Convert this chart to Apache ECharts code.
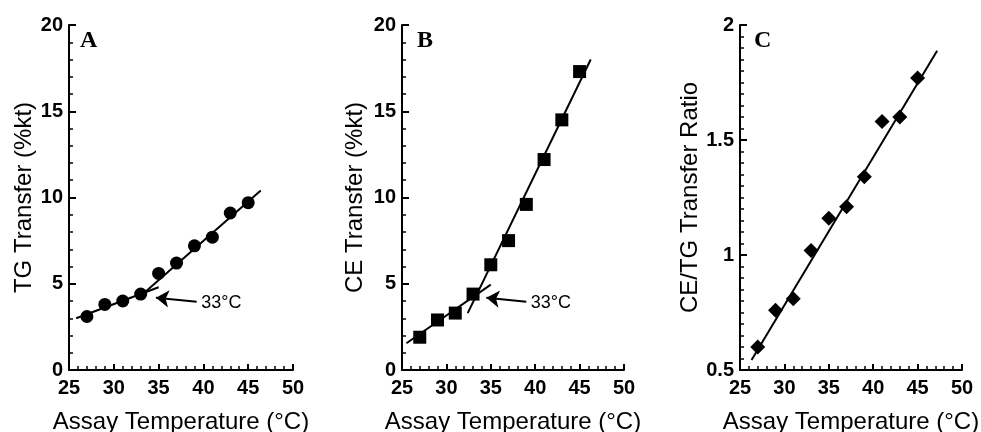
<!DOCTYPE html>
<html>
<head>
<meta charset="utf-8">
<script src="https://cdn.jsdelivr.net/npm/echarts@6/dist/echarts.min.js"></script>
<style>
  html, body { margin: 0; padding: 0; background: #fff; }
  #chart { width: 981px; height: 432px; }
</style>
</head>
<body>
<div id="chart"></div>
<script>
// assay temperatures (°C)
const temps = [27, 29, 31, 33, 35, 37, 39, 41, 43, 45]
// panel A: TG transfer (%kt)
const tgTransfer = [3.1, 3.8, 4.0, 4.4, 5.6, 6.2, 7.2, 7.7, 9.1, 9.7]
// panel B: CE transfer (%kt)
const ceTransfer = [1.9, 2.9, 3.3, 4.4, 6.1, 7.5, 9.6, 12.2, 14.5, 17.3]
// panel C: CE/TG transfer ratio
const ratio = [0.6, 0.76, 0.81, 1.02, 1.16, 1.21, 1.34, 1.58, 1.6, 1.77]

// fitted lines
const tgFitLow = [[25.8, 3.0], [35.0, 4.8]]
const tgFitHigh = [[32.8, 4.2], [46.4, 10.4]]
const ceFitLow = [[25.5, 1.55], [35.0, 4.95]]
const ceFitHigh = [[32.4, 3.3], [46.25, 18.0]]
const ratioFit = [[26.3, 0.543], [47.2, 1.888]]

// "33°C" arrows: [tail, head] and label spot
const tgArrow = [[39.25, 3.96], [34.7, 4.19]]
const tgArrowText = [39.7, 3.87]
const ceArrow = [[39.0, 3.96], [34.5, 4.19]]
const ceArrowText = [39.45, 3.9]

const xTicks = { min: 25, max: 50, interval: 5 }
const tgTicks = { min: 0, max: 20, interval: 5 }
const ratioTicks = { min: 0.5, max: 2, interval: 0.5 }

const sans = 'Liberation Sans'

function xAxisOf(gridIndex) {
  return {
    type: 'value',
    gridIndex: gridIndex,
    min: xTicks.min,
    max: xTicks.max,
    interval: xTicks.interval,
    name: 'Assay Temperature (°C)',
    nameLocation: 'middle',
    nameGap: 40,
    nameMoveOverlap: false,
    nameTextStyle: { fontFamily: sans, fontSize: 24, color: '#000' },
    axisLine: { onZero: false, lineStyle: { color: '#000', width: 2 } },
    axisTick: { show: true, inside: true, length: 6, lineStyle: { color: '#000', width: 2 } },
    minorTick: { show: true, splitNumber: 5, length: 4, lineStyle: { color: '#000', width: 1.5 } },
    axisLabel: { fontFamily: sans, fontSize: 20, fontWeight: 'bold', color: '#000', margin: 8 },
    splitLine: { show: false }
  }
}

function yAxisOf(gridIndex, ticks, name, gap, minorSplit) {
  return {
    type: 'value',
    gridIndex: gridIndex,
    min: ticks.min,
    max: ticks.max,
    interval: ticks.interval,
    name: name,
    nameLocation: 'middle',
    nameGap: gap,
    nameMoveOverlap: false,
    nameTextStyle: { fontFamily: sans, fontSize: 24, color: '#000' },
    axisLine: { onZero: false, lineStyle: { color: '#000', width: 2 } },
    axisTick: { show: true, inside: true, length: 7, lineStyle: { color: '#000', width: 2 } },
    minorTick: { show: true, splitNumber: minorSplit, length: 4, lineStyle: { color: '#000', width: 1.5 } },
    axisLabel: { fontFamily: sans, fontSize: 20, fontWeight: 'bold', color: '#000', margin: 6 },
    splitLine: { show: false }
  }
}

function fitLine(i, data, arrowEnds) {
  let s = {
    type: 'line',
    xAxisIndex: i,
    yAxisIndex: i,
    data: data,
    symbol: 'none',
    lineStyle: { color: '#000', width: 2 },
    silent: true
  }
  if (arrowEnds) {
    s.markLine = {
      silent: true,
      symbol: ['none', 'arrow'],
      symbolSize: 13,
      label: { show: false },
      itemStyle: { color: '#000' },
      lineStyle: { color: '#000', width: 2, type: 'solid', opacity: 1 },
      data: [[{ coord: arrowEnds[0] }, { coord: arrowEnds[1] }]]
    }
  }
  return s
}

function points(i, values, symbol, size) {
  return {
    type: 'scatter',
    xAxisIndex: i,
    yAxisIndex: i,
    data: temps.map((t, k) => [t, values[k]]),
    symbol: symbol,
    symbolSize: size,
    itemStyle: { color: '#000', opacity: 1 },
    z: 5
  }
}

function arrowText(i, at) {
  return {
    type: 'scatter',
    xAxisIndex: i,
    yAxisIndex: i,
    data: [at],
    symbolSize: 1,
    itemStyle: { color: '#fff', opacity: 0 },
    label: {
      show: true,
      position: 'right',
      distance: 0,
      formatter: '33°C',
      fontFamily: sans,
      fontSize: 18,
      color: '#000',
      opacity: 1
    }
  }
}

function panelLetter(text, left) {
  return {
    text: text,
    left: left,
    top: 29,
    padding: 0,
    textStyle: { fontFamily: 'Liberation Serif', fontWeight: 'bold', fontSize: 24, color: '#000' }
  }
}

let myChart = echarts.init(document.getElementById('chart'))
myChart.setOption({
  animation: false,
  title: [panelLetter('A', 80), panelLetter('B', 417), panelLetter('C', 754)],
  grid: [
    { left: 69, top: 25, width: 224, height: 345, outerBoundsMode: 'none' },
    { left: 402, top: 25, width: 222, height: 345, outerBoundsMode: 'none' },
    { left: 740, top: 25, width: 222, height: 345, outerBoundsMode: 'none' }
  ],
  xAxis: [xAxisOf(0), xAxisOf(1), xAxisOf(2)],
  yAxis: [
    yAxisOf(0, tgTicks, 'TG Transfer (%kt)', 33, 5),
    yAxisOf(1, tgTicks, 'CE Transfer (%kt)', 35, 5),
    yAxisOf(2, ratioTicks, 'CE/TG Transfer Ratio', 38, 10)
  ],
  series: [
    fitLine(0, tgFitLow, tgArrow),
    fitLine(0, tgFitHigh),
    points(0, tgTransfer, 'circle', 13),
    arrowText(0, tgArrowText),
    fitLine(1, ceFitLow, ceArrow),
    fitLine(1, ceFitHigh),
    points(1, ceTransfer, 'rect', 13),
    arrowText(1, ceArrowText),
    fitLine(2, ratioFit),
    points(2, ratio, 'diamond', 15)
  ]
})
</script>
</body>
</html>
